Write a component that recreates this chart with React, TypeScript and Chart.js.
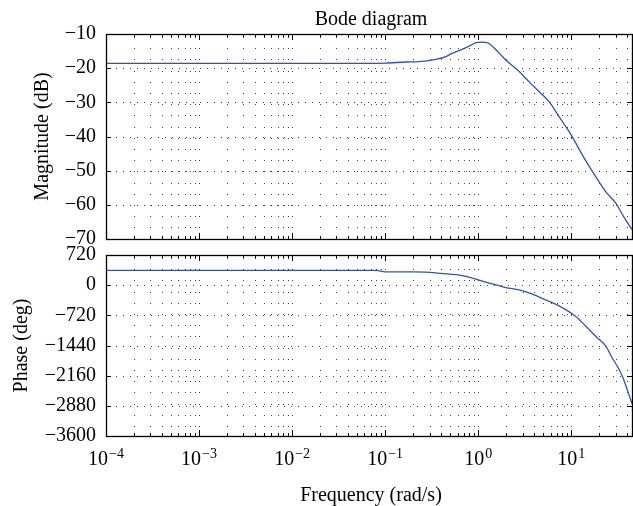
import React, { useEffect, useRef } from 'react';
import { Chart, registerables } from 'chart.js';

Chart.register(...registerables);

// ---------- data ----------
const chartTitle = 'Bode diagram';
const xTitle = 'Frequency (rad/s)';
const magTitle = 'Magnitude (dB)';
const phaseTitle = 'Phase (deg)';

const xDecades = [-4, -3, -2, -1, 0, 1];
const xMin = 1e-4;
const xMax = 45;

const magMin = -70;
const magMax = -10;
const magStep = 10;

const phaseMin = -3600;
const phaseMax = 720;
const phaseStep = 720;

const freqMag = [1e-4, 0.01, 0.05, 0.1, 0.17, 0.23, 0.35, 0.45, 0.53, 0.67, 0.86, 0.95, 1.1, 1.25, 1.68, 1.98, 2.76, 3.53, 4.52, 5.78, 7.4, 9.5, 14.2, 18.4, 23.6, 30.1, 36.7, 45];
const magnitudeDb = [-18.6, -18.6, -18.6, -18.5, -18.2, -18.1, -17.4, -16.6, -15.6, -14.5, -13.1, -12.5, -12.35, -12.5, -15.6, -17.6, -21.0, -24.0, -26.9, -29.8, -34.2, -38.6, -46.9, -51.8, -56.2, -59.5, -63.5, -67.2];

const freqPhase = [1e-4, 0.01, 0.05, 0.08, 0.1, 0.2, 0.27, 0.4, 0.68, 1.0, 1.55, 1.98, 2.76, 3.83, 5.3, 7.4, 11.2, 14.2, 18.4, 23.6, 27.6, 31.5, 35.5, 40, 45];
const phaseDeg = [355, 355, 355, 352, 318, 315, 312, 280, 227, 125, 6, -58, -113, -215, -351, -494, -749, -970, -1224, -1462, -1739, -1950, -2177, -2493, -2830];

// ---------- style ----------
const FONT = '"Liberation Serif", "Times New Roman", serif';
const LINE = 'rgb(52, 84, 170)';
const INK = '#000';

function minus(v: number): string {
  return v < 0 ? '\u2212' + Math.abs(v) : String(v);
}

function xGridValues() {
  const vals: { v: number; major: boolean }[] = [];
  for (const k of xDecades) {
    for (let m = 1; m <= 9; m++) {
      const v = m * Math.pow(10, k);
      if (v >= xMin * 0.999 && v <= xMax) vals.push({ v, major: m === 1 });
    }
  }
  return vals;
}

function supDigits(k: number): string {
  return k < 0 ? '\u2212' + Math.abs(k) : String(k);
}

const bodePlugin = (opts: { showXLabels: boolean; showTitle: boolean }) => ({
  id: 'bodeDecor',
  beforeDatasetsDraw(chart: any) {
    const { ctx, chartArea } = chart;
    const xs = chart.scales.x;
    const ys = chart.scales.y;
    const L = Math.round(chartArea.left);
    const R = Math.round(chartArea.right);
    const T = Math.round(chartArea.top);
    const B = Math.round(chartArea.bottom);
    ctx.save();
    ctx.fillStyle = 'rgba(0,0,0,0.75)';
    for (const g of xGridValues()) {
      const px = Math.round(xs.getPixelForValue(g.v));
      if (px <= L + 1 || px >= R - 1) continue;
      for (let y = T + 3; y < B - 1; y += 11.2) {
        ctx.fillRect(px, Math.round(y), 1, 1);
      }
    }
    for (const t of ys.ticks) {
      const py = Math.round(ys.getPixelForValue(t.value));
      if (py <= T + 1 || py >= B - 1) continue;
      for (let x = L + 3; x < R - 1; x += 7) {
        ctx.fillRect(Math.round(x), py, 1, 1);
      }
    }
    ctx.restore();
  },
  afterDatasetsDraw(chart: any) {
    const { ctx, chartArea } = chart;
    const xs = chart.scales.x;
    const ys = chart.scales.y;
    const L = Math.round(chartArea.left);
    const R = Math.round(chartArea.right);
    const T = Math.round(chartArea.top);
    const B = Math.round(chartArea.bottom);
    ctx.save();
    ctx.strokeStyle = INK;
    ctx.lineWidth = 1;
    ctx.beginPath();
    for (const g of xGridValues()) {
      const px = Math.round(xs.getPixelForValue(g.v)) + 0.5;
      const len = g.major ? 6 : 3;
      ctx.moveTo(px, B);
      ctx.lineTo(px, B - len);
      ctx.moveTo(px, T);
      ctx.lineTo(px, T + len);
    }
    for (const t of ys.ticks) {
      const py = Math.round(ys.getPixelForValue(t.value)) + 0.5;
      ctx.moveTo(L, py);
      ctx.lineTo(L + 5, py);
      ctx.moveTo(R, py);
      ctx.lineTo(R - 5, py);
    }
    ctx.stroke();
    ctx.lineWidth = 1.3;
    ctx.strokeRect(L + 0.5, T + 0.5, R - L, B - T);
    ctx.restore();
  },
  afterDraw(chart: any) {
    const { ctx, chartArea } = chart;
    const xs = chart.scales.x;
    ctx.save();
    ctx.fillStyle = INK;
    if (opts.showTitle) {
      ctx.font = `20px ${FONT}`;
      ctx.textAlign = 'center';
      ctx.textBaseline = 'alphabetic';
      ctx.fillText(chartTitle, (chartArea.left + chartArea.right) / 2 + 2, chartArea.top - 9);
    }
    if (opts.showXLabels) {
      ctx.textBaseline = 'alphabetic';
      ctx.textAlign = 'left';
      const base = chartArea.bottom + 29;
      for (const k of xDecades) {
        const v = Math.pow(10, k);
        const px = xs.getPixelForValue(v);
        ctx.font = `20px ${FONT}`;
        const w1 = ctx.measureText('10').width;
        ctx.font = `14px ${FONT}`;
        const sup = supDigits(k);
        const w2 = ctx.measureText(sup).width;
        const start = px - (w1 + w2 + 1) / 2;
        ctx.font = `20px ${FONT}`;
        ctx.fillText('10', start, base);
        ctx.font = `14px ${FONT}`;
        ctx.fillText(sup, start + w1 + 1, base - 7);
      }
      ctx.font = `20px ${FONT}`;
      ctx.textAlign = 'center';
      ctx.fillText(xTitle, (chartArea.left + chartArea.right) / 2 + 2, chartArea.bottom + 65);
    }
    ctx.restore();
  },
});

function makeConfig(
  freqs: number[],
  vals: number[],
  yMin: number,
  yMax: number,
  yStep: number,
  yTitle: string,
  titlePad: number,
  padTop: number,
  xHeight: number,
  showXLabels: boolean,
  showTitle: boolean
): any {
  return {
    type: 'scatter',
    data: {
      datasets: [
        {
          data: freqs.map((f, i) => ({ x: f, y: vals[i] })),
          showLine: true,
          borderColor: LINE,
          backgroundColor: LINE,
          borderWidth: 1.3,
          pointRadius: 0,
          pointHoverRadius: 0,
          fill: false,
          cubicInterpolationMode: 'monotone',
        },
      ],
    },
    options: {
      responsive: false,
      animation: false,
      events: [],
      layout: { padding: { top: padTop, right: 1, bottom: 0, left: 0 } },
      plugins: {
        legend: { display: false },
        tooltip: { enabled: false },
        title: { display: false },
      },
      scales: {
        x: {
          type: 'logarithmic',
          min: xMin,
          max: xMax,
          grid: { display: false, drawTicks: false },
          border: { display: false },
          ticks: { display: false },
          afterFit: (s: any) => {
            s.height = xHeight;
            s.paddingLeft = 0;
            s.paddingRight = 0;
          },
        },
        y: {
          type: 'linear',
          min: yMin,
          max: yMax,
          grid: { display: false, drawTicks: false },
          border: { display: false },
          ticks: {
            stepSize: yStep,
            padding: 10,
            color: INK,
            font: { family: FONT, size: 20 },
            callback: (v: any) => minus(Number(v)),
          },
          title: {
            display: true,
            text: yTitle,
            color: INK,
            font: { family: FONT, size: 20 },
            padding: { top: titlePad, bottom: 0 },
          },
          afterFit: (s: any) => {
            s.width = 106;
            s.paddingTop = 0;
            s.paddingBottom = 0;
          },
        },
      },
    },
    plugins: [bodePlugin({ showXLabels, showTitle })],
  };
}

export default function App() {
  const topRef = useRef<HTMLCanvasElement>(null);
  const botRef = useRef<HTMLCanvasElement>(null);

  useEffect(() => {
    const top = new Chart(
      topRef.current as HTMLCanvasElement,
      makeConfig(freqMag, magnitudeDb, magMin, magMax, magStep, magTitle, 31, 34, 9, false, true)
    );
    const bot = new Chart(
      botRef.current as HTMLCanvasElement,
      makeConfig(freqPhase, phaseDeg, phaseMin, phaseMax, phaseStep, phaseTitle, 10, 19, 70, true, false)
    );
    return () => {
      top.destroy();
      bot.destroy();
    };
  }, []);

  return (
    <div style={{ position: 'fixed', left: 0, top: 0, width: 633, height: 506, background: '#fff' }}>
      <canvas
        ref={topRef}
        width={633}
        height={248}
        style={{ position: 'absolute', left: 0, top: 0, width: 633, height: 248 }}
      />
      <canvas
        ref={botRef}
        width={633}
        height={270}
        style={{ position: 'absolute', left: 0, top: 236, width: 633, height: 270 }}
      />
    </div>
  );
}
